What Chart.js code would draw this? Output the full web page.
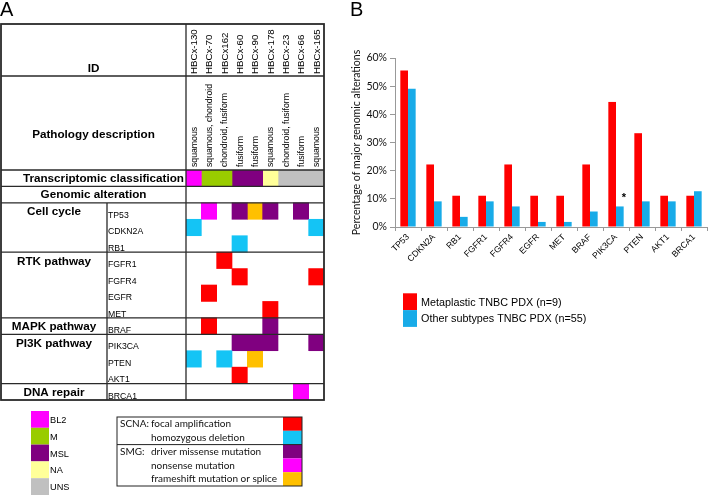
<!DOCTYPE html>
<html>
<head>
<meta charset="utf-8">
<script src="https://cdn.jsdelivr.net/npm/chart.js@4.4.0/dist/chart.umd.min.js"></script>
<style>
  html, body { margin: 0; padding: 0; background: #fff; }
  body { width: 709px; height: 495px; position: relative; overflow: hidden; }
  #wrapA { position: absolute; left: 0; top: 0; width: 340px; height: 495px; }
  #wrapB { position: absolute; left: 345px; top: 0; width: 364px; height: 495px; }
</style>
</head>
<body>
<div id="wrapA"><canvas id="heatmapChart" width="340" height="495"></canvas></div>
<div id="wrapB"><canvas id="alterationChart" width="364" height="495"></canvas></div>
<script>
// ---- Panel A data ----
const sampleIds = ['HBCx-130', 'HBCx-70', 'HBCx162', 'HBCx-60', 'HBCx-90', 'HBCx-178', 'HBCx-23', 'HBCx-66', 'HBCx-165'];
const pathology = ['squamous', 'squamous, chondroid', 'chondroid, fusiform', 'fusiform', 'fusiform',
  'squamous', 'chondroid, fusiform', 'fusiform', 'squamous'];
const subtypes = ['BL2', 'M', 'M', 'MSL', 'MSL', 'NA', 'UNS', 'UNS', 'UNS'];
const subtypeNames = ['BL2', 'M', 'MSL', 'NA', 'UNS'];
const subtypeColors = ['#FF00FF', '#99CC00', '#800080', '#FFFF99', '#C0C0C0'];

const pathways = ['Cell cycle', 'RTK pathway', 'MAPK pathway', 'PI3K pathway', 'DNA repair'];
const pathwaySizes = [3, 4, 1, 3, 1];
const genes = ['TP53', 'CDKN2A', 'RB1', 'FGFR1', 'FGFR4', 'EGFR', 'MET', 'BRAF', 'PIK3CA', 'PTEN', 'AKT1', 'BRCA1'];
// one letter per sample: a amplification, d deletion, m missense, n nonsense, f frameshift/splice
const alterationCodes = [
  '.n.mfm.m.',
  'd.......d',
  '...d.....',
  '..a......',
  '...a....a',
  '.a.......',
  '.....a...',
  '.a...m...',
  '...mmm..m',
  'd.d.f....',
  '...a.....',
  '.......n.'
];
const alterationKeys = ['a', 'd', 'm', 'n', 'f'];
const alterationGroups = ['SCNA:', '', 'SMG:', '', ''];
const alterationTypes = ['focal amplification', 'homozygous deletion', 'driver missense mutation',
  'nonsense mutation', 'frameshift mutation or splice'];
const alterationColors = ['#FF0000', '#14C4F5', '#800080', '#FF00FF', '#FFC000'];

const rowLabels = ['Transcriptomic classification', 'Genomic alteration', ...genes];

// ---- Panel B data ----
const barGenes = ['TP53', 'CDKN2A', 'RB1', 'FGFR1', 'FGFR4', 'EGFR', 'MET', 'BRAF', 'PIK3CA', 'PTEN', 'AKT1', 'BRCA1'];
const metaplasticPct = [55.6, 22.2, 11.1, 11.1, 22.2, 11.1, 11.1, 22.2, 44.4, 33.3, 11.1, 11.1];
const otherPct = [49.1, 9.1, 3.6, 9.1, 7.3, 1.8, 1.8, 5.5, 7.3, 9.1, 9.1, 12.7];
const seriesNames = ['Metaplastic TNBC PDX (n=9)', 'Other subtypes TNBC PDX (n=55)'];
const seriesColors = ['#FF0000', '#18ABE8'];
const significantGenes = ['PIK3CA'];

const ARIAL = '"Liberation Sans", Arial, sans-serif';
const CALIBRI = 'Lato, "Liberation Sans", sans-serif';

// ---- Panel A: heatmap cells as floating bars ----
function buildHeatmapDatasets() {
  const sets = [];
  subtypeNames.forEach((name, k) => {
    const data = [];
    subtypes.forEach((s, c) => { if (s === name) data.push({ x: [c, c + 1], y: rowLabels[0] }); });
    sets.push({ label: name, data, backgroundColor: subtypeColors[k] });
  });
  alterationKeys.forEach((key, k) => {
    const data = [];
    genes.forEach((g, r) => {
      [...alterationCodes[r]].forEach((ch, c) => { if (ch === key) data.push({ x: [c, c + 1], y: g }); });
    });
    sets.push({ label: alterationTypes[k], data, backgroundColor: alterationColors[k] });
  });
  return sets.map(s => Object.assign(s, {
    grouped: false, barPercentage: 1, categoryPercentage: 1, borderWidth: 0
  }));
}

const tableFrame = {
  id: 'tableFrame',
  afterDraw(chart) {
    const { ctx, chartArea: area, scales: { x, y } } = chart;
    const rowH = (area.bottom - area.top) / rowLabels.length;
    const rowTop = i => y.getPixelForValue(i) - rowH / 2;
    const left = 1, geneX = 107, idTop = 24, idBottom = 76;
    const midLeft = (left + area.left) / 2;

    ctx.save();
    ctx.fillStyle = '#000';
    ctx.font = '20px ' + ARIAL;
    ctx.textAlign = 'left';
    ctx.textBaseline = 'alphabetic';
    ctx.fillText('A', 0, 16);

    // grid lines
    ctx.strokeStyle = '#2a2a2a';
    ctx.lineWidth = 1.3;
    const hLines = [idBottom, area.top, rowTop(1), rowTop(2)];
    let r = 2;
    pathwaySizes.slice(0, -1).forEach(n => { r += n; hLines.push(rowTop(r)); });
    ctx.beginPath();
    hLines.forEach(yy => { ctx.moveTo(left, yy); ctx.lineTo(area.right, yy); });
    ctx.moveTo(area.left, idTop); ctx.lineTo(area.left, area.bottom);
    ctx.moveTo(geneX, rowTop(2)); ctx.lineTo(geneX, area.bottom);
    ctx.stroke();
    ctx.lineWidth = 1.8;
    ctx.strokeRect(left, idTop, area.right - left, area.bottom - idTop);

    // header texts
    ctx.font = 'bold 11.7px ' + ARIAL;
    ctx.textAlign = 'center';
    ctx.textBaseline = 'middle';
    ctx.fillText('ID', midLeft, 69);
    ctx.fillText('Pathology description', midLeft, 135);
    const tw = ctx.measureText(rowLabels[0]).width;
    ctx.fillText(rowLabels[0], Math.max(midLeft, area.left - 2 - tw / 2), y.getPixelForValue(0) + 0.5);
    ctx.fillText(rowLabels[1], midLeft, y.getPixelForValue(1) + 0.5);

    r = 2;
    pathways.forEach((p, i) => {
      ctx.fillText(p, (left + geneX) / 2, y.getPixelForValue(r) + 1);
      r += pathwaySizes[i];
    });

    // gene names
    ctx.font = '8.7px ' + ARIAL;
    ctx.textAlign = 'left';
    ctx.textBaseline = 'alphabetic';
    genes.forEach((g, i) => {
      ctx.fillText(g, geneX + 1, y.getPixelForValue(i + 2) + rowH / 2 - 1.3);
    });

    // rotated sample ids and pathology
    sampleIds.forEach((id, c) => {
      const cx = x.getPixelForValue(c + 0.5);
      ctx.save();
      ctx.translate(cx + 0.5, idBottom - 2);
      ctx.rotate(-Math.PI / 2);
      ctx.font = '9.7px ' + ARIAL;
      ctx.textBaseline = 'middle';
      ctx.fillText(id, 0, 0);
      ctx.restore();
      ctx.save();
      ctx.translate(cx + 0.5, area.top - 3);
      ctx.rotate(-Math.PI / 2);
      ctx.font = '8.7px ' + ARIAL;
      ctx.textBaseline = 'middle';
      ctx.fillText(pathology[c], 0, 0);
      ctx.restore();
    });

    // subtype legend
    const boxH = 16.8;
    ctx.font = '9.2px ' + ARIAL;
    ctx.textBaseline = 'middle';
    subtypeNames.forEach((n, i) => {
      const by = 411 + i * boxH;
      ctx.fillStyle = subtypeColors[i];
      ctx.fillRect(31, by, 18, boxH);
      ctx.fillStyle = '#000';
      ctx.fillText(n, 50, by + boxH / 2 + 1);
    });

    // alteration legend
    const lx = 117, ly = 417, lw = 185, lh = 13.8;
    alterationTypes.forEach((t, i) => {
      const by = ly + i * lh;
      ctx.fillStyle = alterationColors[i];
      ctx.fillRect(lx + lw - 19, by, 19, lh);
      ctx.fillStyle = '#111';
      ctx.font = '10px ' + CALIBRI;
      if (alterationGroups[i]) ctx.fillText(alterationGroups[i], lx + 3, by + lh / 2);
      ctx.fillText(t, lx + 34, by + lh / 2);
    });
    ctx.strokeStyle = '#222';
    ctx.lineWidth = 1;
    ctx.strokeRect(lx, ly, lw, lh * alterationTypes.length);
    ctx.beginPath();
    ctx.moveTo(lx, ly + 2 * lh); ctx.lineTo(lx + lw, ly + 2 * lh);
    ctx.stroke();
    ctx.restore();
  }
};

new Chart(document.getElementById('heatmapChart'), {
  type: 'bar',
  data: { labels: rowLabels, datasets: buildHeatmapDatasets() },
  options: {
    responsive: false,
    animation: false,
    indexAxis: 'y',
    layout: { padding: { left: 186, right: 16, top: 170, bottom: 95 } },
    plugins: { legend: { display: false }, tooltip: { enabled: false } },
    scales: {
      x: { type: 'linear', min: 0, max: sampleIds.length, display: false },
      y: { type: 'category', display: false, offset: true }
    }
  },
  plugins: [tableFrame]
});

// ---- Panel B: bar chart ----
const panelExtras = {
  id: 'panelExtras',
  afterDraw(chart) {
    const { ctx } = chart;
    ctx.save();
    ctx.fillStyle = '#000';
    ctx.font = '20px ' + ARIAL;
    ctx.textBaseline = 'alphabetic';
    ctx.fillText('B', 5, 16);

    // asterisk over significant genes
    const otherMeta = chart.getDatasetMeta(1);
    ctx.font = 'bold 11px ' + ARIAL;
    ctx.textAlign = 'center';
    significantGenes.forEach(g => {
      const bar = otherMeta.data[barGenes.indexOf(g)];
      ctx.fillText('*', bar.x + 4, bar.y - 5);
    });

    // legend
    ctx.textAlign = 'left';
    ctx.textBaseline = 'middle';
    ctx.font = '10.8px ' + ARIAL;
    const boxH = 16.8;
    chart.data.datasets.forEach((ds, i) => {
      const by = 293.3 + i * boxH;
      ctx.fillStyle = ds.backgroundColor;
      ctx.fillRect(58, by, 14, boxH);
      ctx.fillStyle = '#000';
      ctx.fillText(ds.label, 76, by + boxH / 2 + 1);
    });
    ctx.restore();
  }
};

new Chart(document.getElementById('alterationChart'), {
  type: 'bar',
  data: {
    labels: barGenes,
    datasets: [
      { label: seriesNames[0], data: metaplasticPct, backgroundColor: seriesColors[0] },
      { label: seriesNames[1], data: otherPct, backgroundColor: seriesColors[1] }
    ]
  },
  options: {
    responsive: false,
    animation: false,
    layout: { padding: { top: 58, right: 2, bottom: 200, left: 0 } },
    datasets: { bar: { barPercentage: 1, categoryPercentage: 0.59, borderWidth: 0 } },
    plugins: { legend: { display: false }, tooltip: { enabled: false } },
    scales: {
      x: {
        grid: { drawOnChartArea: false, drawTicks: true, tickLength: 4, color: '#999', offset: true },
        border: { color: '#999' },
        ticks: {
          minRotation: 45, maxRotation: 45, autoSkip: false, padding: 1, color: '#000',
          font: { family: ARIAL, size: 8.7 }
        },
        afterFit: s => { s.height = 68; }
      },
      y: {
        min: 0, max: 60,
        grid: { drawOnChartArea: false, tickLength: 5, color: '#999' },
        border: { color: '#999' },
        ticks: {
          stepSize: 10, padding: 3, color: '#111',
          font: { family: CALIBRI, size: 10.5 },
          callback: v => v + '%'
        },
        title: {
          display: true, text: 'Percentage of major genomic alterations', color: '#111',
          font: { family: CALIBRI, size: 10.5 }, padding: { top: 5, bottom: 0 }
        },
        afterFit: s => { s.width = 50; }
      }
    }
  },
  plugins: [panelExtras]
});
</script>
</body>
</html>
